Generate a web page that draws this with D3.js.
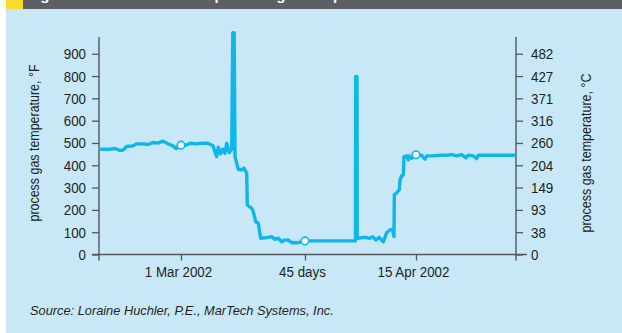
<!DOCTYPE html>
<html>
<head>
<meta charset="utf-8">
<script src="https://cdn.jsdelivr.net/npm/d3@7/dist/d3.min.js"></script>
<style>
  html, body { margin: 0; padding: 0; background: #fff; }
  svg { display: block; }
  .tick text { font-family: "Liberation Sans Narrow", "Arial Narrow", "Liberation Sans", Arial, sans-serif; }
</style>
</head>
<body>
<svg id="chart" width="622" height="333"></svg>
<script>
// Process gas temperature (°F) by day, measured from 1 Mar 2002
const days = [
  -15.70, -13.60, -12.64, -11.68, -11.05, -10.40, -9.19, -8.48, -7.28, -6.32,
  -5.36, -4.40, -3.45, -2.49, -1.53, -0.96, 0, 1.09, 1.72, 3.01,
  4.21, 5.17, 6.13, 6.84, 7.14, 7.60, 7.98, 8.43, 8.75, 9.25,
  9.71, 9.92, 10.18, 10.35, 10.67, 10.97, 11.62, 12.06, 12.58, 12.70,
  13.54, 13.84, 14.30, 14.80, 15.26, 16.72, 17.37, 18.00, 18.63, 19.28,
  19.92, 20.55, 21.20, 22.46, 23.74, 33.40, 33.45, 33.70, 33.75, 35.23,
  36.19, 36.71, 37.34, 37.97, 38.74, 39.39, 40.02, 40.54, 40.79, 40.85,
  41.31, 41.80, 41.94, 42.26, 42.57, 42.70, 43.22, 43.53, 43.72, 44.18,
  45.00, 46.09, 46.72, 47.05, 48.31, 49.60, 50.88, 51.84, 52.79, 53.75,
  54.57, 55.02, 55.97, 56.62, 56.93, 64.15
];
const tempF = [
  472, 472, 475, 466, 469, 484, 487, 496, 496, 493,
  502, 499, 508, 496, 487, 475, 490, 491, 499, 496,
  499, 499, 487, 439, 481, 451, 472, 454, 499, 457,
  472, 994, 994, 439, 409, 382, 379, 387, 364, 222,
  207, 192, 147, 140, 73, 77, 80, 68, 73, 57,
  65, 65, 53, 53, 61, 61, 798, 798, 73, 77,
  73, 80, 65, 77, 57, 98, 110, 113, 80, 267,
  277, 290, 334, 352, 357, 439, 442, 424, 442, 432,
  447, 445, 427, 442, 442, 445, 445, 448, 442, 448,
  433, 445, 442, 430, 445, 445
];

// Highlighted readings
const markerDays = [0, 23.74, 45];
const markerTemps = [490, 61, 447];

// Axis ticks and labels
const xTickDays = [0, 23.74, 45];
const xTickLabels = ["1 Mar 2002", "45 days", "15 Apr 2002"];
const fTicks = [0, 100, 200, 300, 400, 500, 600, 700, 800, 900];
const cLabels = ["0", "38", "93", "149", "204", "260", "316", "371", "427", "482"];

const titleText = "Figure 2: Variations in the process gas temperature";
const leftTitle = "process gas temperature, °F";
const rightTitle = "process gas temperature, °C";
const sourceText = "Source: Loraine Huchler, P.E., MarTech Systems, Inc.";

const W = 622, H = 333;
const colors = {
  panel: "#c8e8f8", bar: "#5c5f63", accent: "#f7dc2b",
  line: "#0fb6ea", axis: "#55585c", text: "#231f20"
};

// Squeeze text horizontally to a condensed look
function condense(sel, k) {
  sel.each(function () {
    const w = this.getComputedTextLength();
    d3.select(this).attr("textLength", w * k).attr("lengthAdjust", "spacingAndGlyphs");
  });
}

const svg = d3.select("#chart");

// Frame: white page, blue panel, grey title strip with yellow tab
svg.append("rect").attr("width", W).attr("height", H).attr("fill", "#fff");
svg.append("rect").attr("x", 6).attr("y", 9).attr("width", W - 6).attr("height", H - 9).attr("fill", colors.panel);
svg.append("rect").attr("x", 23).attr("y", 0).attr("width", W - 23).attr("height", 9).attr("fill", colors.bar);
svg.append("rect").attr("x", 6).attr("y", 0).attr("width", 17).attr("height", 9).attr("fill", colors.accent);
svg.append("text").attr("x", 27).attr("y", 0)
  .attr("font-family", "Liberation Sans, Arial, sans-serif")
  .attr("font-weight", "bold").attr("font-size", 15).attr("fill", "#fff")
  .text(titleText);

const x = d3.scaleLinear().domain([-15.70, 64.15]).range([99, 516]);
const y = d3.scaleLinear().domain([0, 975]).range([254.5, 37]);

const [x0, x1] = x.range();
const yBottom = y(0), yTop = y(975);

const axisStyle = g => {
  g.select(".domain").remove();
  g.selectAll(".tick line").attr("stroke", colors.axis).attr("stroke-width", 1.3);
  g.selectAll(".tick text").attr("fill", colors.text).attr("font-size", 15.5).call(condense, 0.86);
};

// Left axis (°F)
svg.append("g").attr("transform", `translate(${x0},0)`)
  .call(d3.axisLeft(y).tickValues(fTicks).tickSize(7).tickPadding(6).tickFormat(d3.format("d")))
  .call(axisStyle);

// Right axis (°C labels at the matching °F positions)
svg.append("g").attr("transform", `translate(${x1},0)`)
  .call(d3.axisRight(y).tickValues(fTicks).tickSize(7).tickPadding(8)
    .tickFormat(d => cLabels[fTicks.indexOf(d)]))
  .call(axisStyle);

// Bottom axis
svg.append("g").attr("transform", `translate(0,${yBottom})`)
  .call(d3.axisBottom(x).tickValues(xTickDays).tickSize(6).tickPadding(5)
    .tickFormat(d => xTickLabels[xTickDays.indexOf(d)]))
  .call(axisStyle)
  .call(g => g.selectAll(".tick text").attr("dx", -3));

// Axis lines
const axisLines = svg.append("g").attr("stroke", colors.axis).attr("stroke-width", 1.4);
axisLines.append("line").attr("x1", x0 - 7).attr("x2", x1 + 11).attr("y1", yBottom).attr("y2", yBottom);
axisLines.append("line").attr("x1", x0).attr("x2", x0).attr("y1", yTop).attr("y2", yBottom + 6);
axisLines.append("line").attr("x1", x1).attr("x2", x1).attr("y1", yTop).attr("y2", yBottom + 6);

// Axis titles
const titleFont = "Liberation Sans, Arial, sans-serif";
svg.append("text")
  .attr("transform", `translate(39,143) rotate(-90)`)
  .attr("text-anchor", "middle").attr("font-family", titleFont).attr("font-size", 14)
  .attr("textLength", 157).attr("lengthAdjust", "spacingAndGlyphs")
  .attr("fill", colors.text).text(leftTitle);
svg.append("text")
  .attr("transform", `translate(591,153) rotate(-90)`)
  .attr("text-anchor", "middle").attr("font-family", titleFont).attr("font-size", 14)
  .attr("textLength", 159).attr("lengthAdjust", "spacingAndGlyphs")
  .attr("fill", colors.text).text(rightTitle);

// Temperature trace
const series = days.map((d, i) => [d, tempF[i]]);
svg.append("path")
  .datum(series)
  .attr("fill", "none").attr("stroke", colors.line).attr("stroke-width", 3.4)
  .attr("stroke-linejoin", "round")
  .attr("d", d3.line().x(d => x(d[0])).y(d => y(d[1])));

// Markers
svg.append("g").selectAll("circle")
  .data(markerDays.map((d, i) => [d, markerTemps[i]]))
  .join("circle")
  .attr("cx", d => x(d[0])).attr("cy", d => y(d[1])).attr("r", 3.8)
  .attr("fill", "#fff").attr("stroke", colors.line).attr("stroke-width", 1.6);

// Source note
svg.append("text").attr("x", 30).attr("y", 315)
  .attr("font-family", "Liberation Sans, Arial, sans-serif").attr("font-style", "italic")
  .attr("font-size", 12.8).attr("fill", colors.text).text(sourceText);
</script>
</body>
</html>
